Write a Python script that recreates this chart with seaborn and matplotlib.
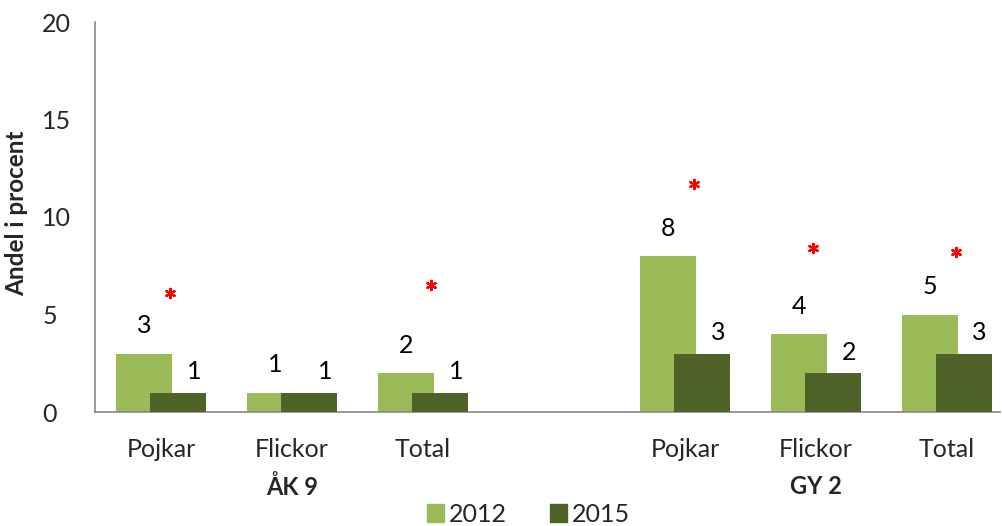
import numpy as np
import pandas as pd
import matplotlib
matplotlib.use("Agg")
import matplotlib.pyplot as plt
import seaborn as sns
from matplotlib.patches import Patch

# chart values
categories = ["Pojkar", "Flickor", "Total", "Pojkar", "Flickor", "Total"]
groups = ["ÅK 9", "GY 2"]
slots = [0, 1, 2, 4, 5, 6]          # slot 3 is the empty gap between groups
vals_2012 = [3, 1, 2, 8, 4, 5]
vals_2015 = [1, 1, 1, 3, 2, 3]
# red significance stars (height in percent), None = no star
star_heights = [6.1, None, 6.5, 11.7, 8.4, 8.2]

LIGHT = "#9BBB59"
DARK = "#4F6228"
star_dx = [0.07, 0.0, 0.06, 0.07, -0.02, 0.07]

sns.set_theme(style="white")
plt.rcParams["font.family"] = ["Lato", "DejaVu Sans"]

fig = plt.figure(figsize=(10.03, 5.26), dpi=100)
ax = fig.add_axes([95 / 1003, 1 - 412 / 526, 905 / 1003, 390 / 526])

off = 0.13
w = 0.43
df12 = pd.DataFrame({"x": np.array(slots) - off, "y": vals_2012})
df15 = pd.DataFrame({"x": np.array(slots) + off, "y": vals_2015})
sns.barplot(data=df12, x="x", y="y", native_scale=True, width=w,
            color=LIGHT, saturation=1, linewidth=0, ax=ax, zorder=2)
sns.barplot(data=df15, x="x", y="y", native_scale=True, width=w,
            color=DARK, saturation=1, linewidth=0, ax=ax, zorder=3)

for s, v in zip(slots, vals_2012):
    ax.annotate(str(v), (s - off, v), xytext=(0, 20), textcoords="offset points",
                ha="center", va="center", fontsize=18, color="black")
for s, v in zip(slots, vals_2015):
    ax.annotate(str(v), (s + off + 0.12, v), xytext=(0, 15), textcoords="offset points",
                ha="center", va="center", fontsize=18, color="black")

stars = [(s + d, h) for s, h, d in zip(slots, star_heights, star_dx) if h is not None]
sns.scatterplot(x=[p[0] for p in stars], y=[p[1] for p in stars], ax=ax,
                marker=(6, 2, 0), s=45, color="red", linewidth=1.6, zorder=4)

ax.set_xlim(-0.504, 6.405)
ax.set_ylim(0, 20)
ax.set_yticks([0, 5, 10, 15, 20])
ax.set_xticks(slots)
ax.set_xticklabels(categories)
ax.tick_params(axis="x", length=0, pad=19, labelsize=18)
ax.tick_params(axis="y", length=0, pad=38, labelsize=18)
for lab in ax.get_yticklabels():
    lab.set_horizontalalignment("left")
ax.set_xlabel("")
ax.set_ylabel("")

for sp in ["top", "right"]:
    ax.spines[sp].set_visible(False)
for sp in ["left", "bottom"]:
    ax.spines[sp].set_color("#888888")
    ax.spines[sp].set_linewidth(1.2)

fig.text(17 / 1003, 1 - 213 / 526, "Andel i procent", rotation=90,
         ha="center", va="center", fontsize=17.5, fontweight="bold")

for g, s in zip(groups, [1, 5]):
    x_fig = (95 + (s + 0.504) / (6.405 + 0.504) * 905) / 1003
    fig.text(x_fig, 1 - 487 / 526, g, ha="center", va="center",
             fontsize=17, fontweight="bold")

handles = [Patch(color=LIGHT, label="2012"), Patch(color=DARK, label="2015")]
fig.legend(handles=handles, loc="center", bbox_to_anchor=(0.527, 1 - 514 / 526),
           ncol=2, frameon=False, fontsize=18, handlelength=0.7, handleheight=0.7,
           handletextpad=0.2, columnspacing=1.7)

fig.savefig("out.png", dpi=100)
